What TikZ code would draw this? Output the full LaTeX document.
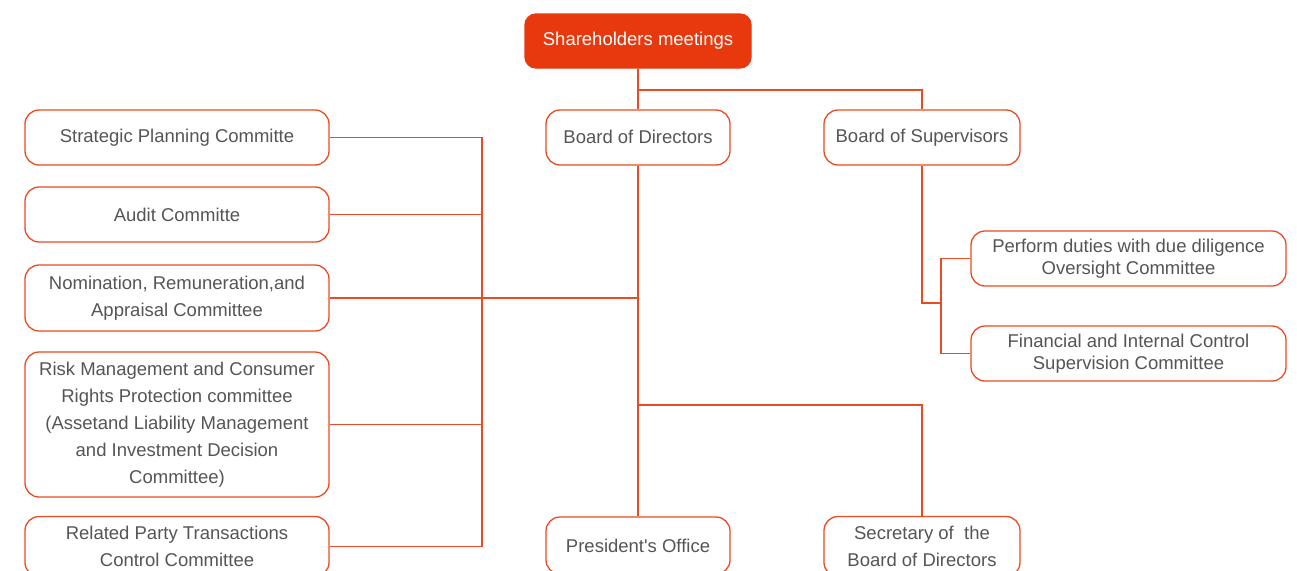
\documentclass[tikz,border=0pt]{standalone}
\usepackage{fontspec}
\setmainfont{Liberation Sans}
\definecolor{orl}{HTML}{EB4A22}
\definecolor{orf}{HTML}{E8380D}
\definecolor{txt}{HTML}{555555}
\begin{document}
\begin{tikzpicture}[x=1pt,y=-1pt,
  box/.style={draw=orl, line width=1.3pt, rounded corners=14pt, fill=white, text=txt,
    font=\fontsize{18.5}{26.5}\selectfont, align=center, inner sep=0pt},
  tight/.style={font=\fontsize{18.5}{21.5}\selectfont},
  wide/.style={font=\fontsize{18.5}{27}\selectfont},
  conn/.style={draw=orl, line width=1.2pt}]
\useasboundingbox (0,0) rectangle (1297,570);
\node[box, fill=orf, draw=orf, text=white, rounded corners=11pt, minimum width=226pt, minimum height=54pt] (sh) at (638,41) {Shareholders meetings};
\node[box, minimum width=184pt, minimum height=55pt] (bod) at (638,137.5) {\raisebox{2pt}{Board of Directors}};
\node[box, minimum width=196pt, minimum height=55pt] (bos) at (922,137.5) {Board of Supervisors};
\node[box, minimum width=304pt, minimum height=55pt] (spc) at (177,137.5) {\raisebox{-2pt}{Strategic Planning Committe}};
\node[box, minimum width=304pt, minimum height=55pt] (aud) at (177,214.5) {Audit Committe};
\node[box, minimum width=304pt, minimum height=66pt] (nom) at (177,298) {Nomination, Remuneration,and\\Appraisal Committee};
\node[box, wide, minimum width=304pt, minimum height=145pt] (risk) at (177,424.5) {Risk Management and Consumer\\Rights Protection committee\\(Assetand Liability Management\\and Investment Decision\\Committee)};
\node[box, minimum width=304pt, minimum height=60pt] (rel) at (177,546.5) {Related Party Transactions\\Control Committee};
\node[box, minimum width=184pt, minimum height=57pt] (pres) at (638,545.5) {President\textquotesingle s Office};
\node[box, minimum width=196pt, minimum height=60pt] (sec) at (922,546.5) {Secretary of\ \ the\\Board of Directors};
\node[box, tight, minimum width=315pt, minimum height=55pt] (perf) at (1128.5,258.5) {Perform duties with due diligence\\Oversight Committee};
\node[box, tight, minimum width=315pt, minimum height=55pt] (fin) at (1128.5,353.5) {Financial and Internal Control\\Supervision Committee};
\coordinate (j1) at (638,90);
\coordinate (lb) at (482,297);
\coordinate (j2) at (638,405);
\coordinate (rb) at (941,303);
\draw[conn] (sh.south) -- (bod.north);
\draw[conn] (j1) -| (bos.north);
\draw[conn] (bod.south) -- (pres.north);
\draw[conn] (j2) -| (sec.north);
\draw[conn] (nom.east) -- (nom.east -| bod.south);
\draw[conn] (spc.east) -| (lb);
\draw[conn] (rel.east) -| (lb);
\draw[conn] (aud.east) -- (aud.east -| lb);
\draw[conn] (risk.east) -- (risk.east -| lb);
\draw[conn] (bos.south) |- (rb);
\draw[conn] (perf.west) -| (rb);
\draw[conn] (fin.west) -| (rb);
\end{tikzpicture}
\end{document}
